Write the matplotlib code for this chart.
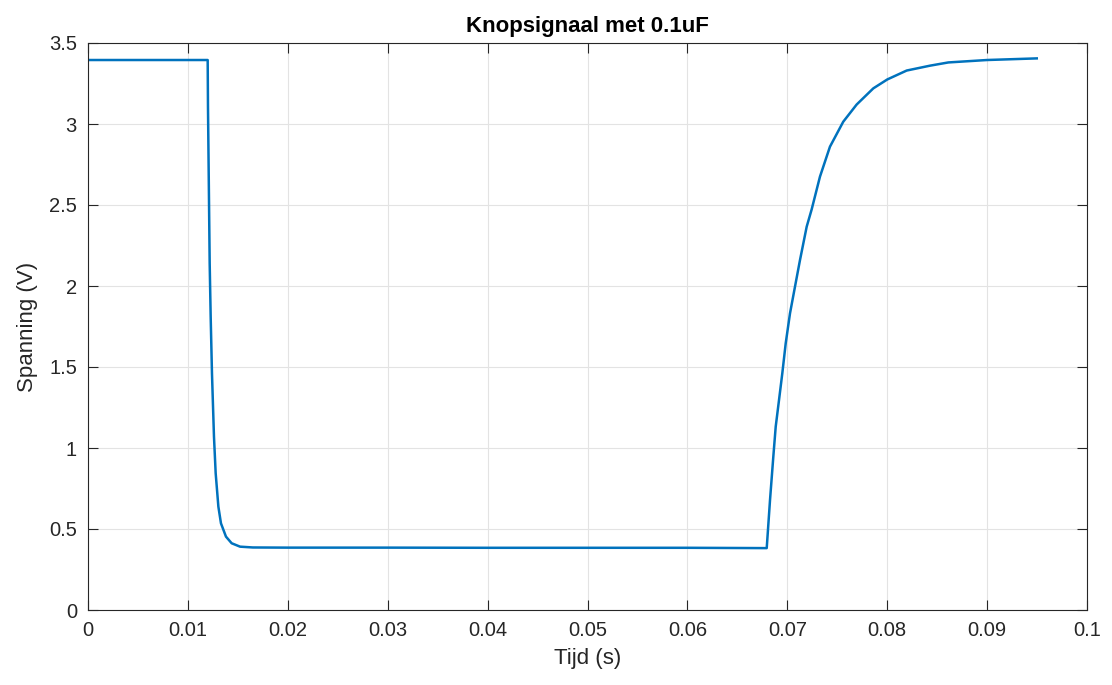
import matplotlib
matplotlib.use("Agg")
import matplotlib.pyplot as plt

plt.rcParams['font.family'] = ['Liberation Sans', 'DejaVu Sans']

# Time (s) and voltage (V)
tijd = [0.0, 0.004, 0.008, 0.01198, 0.01201, 0.01218, 0.01228, 0.01241, 0.01261,
        0.01278, 0.01305, 0.01331, 0.01381, 0.01438, 0.01522, 0.0165, 0.02,
        0.03, 0.04, 0.05, 0.06, 0.06794, 0.06827, 0.0686, 0.06884, 0.06917,
        0.0695, 0.06984, 0.07027, 0.07077, 0.07127, 0.07194, 0.07244, 0.07327,
        0.07427, 0.0756, 0.07694, 0.07861, 0.08001, 0.08195, 0.08428, 0.08612,
        0.09, 0.09497]
spanning = [3.395, 3.395, 3.395, 3.395, 3.107, 2.14, 1.81, 1.46, 1.07,
            0.844, 0.638, 0.535, 0.453, 0.412, 0.391, 0.386, 0.385,
            0.385, 0.384, 0.384, 0.384, 0.382, 0.679, 0.946, 1.132, 1.296,
            1.461, 1.646, 1.831, 1.996, 2.16, 2.366, 2.473, 2.675,
            2.86, 3.014, 3.12, 3.22, 3.275, 3.33, 3.36, 3.38,
            3.395, 3.405]

xticks = [0, 0.01, 0.02, 0.03, 0.04, 0.05, 0.06, 0.07, 0.08, 0.09, 0.1]
xticklabels = ['0', '0.01', '0.02', '0.03', '0.04', '0.05', '0.06', '0.07', '0.08', '0.09', '0.1']
yticks = [0, 0.5, 1, 1.5, 2, 2.5, 3, 3.5]
yticklabels = ['0', '0.5', '1', '1.5', '2', '2.5', '3', '3.5']

fig = plt.figure(figsize=(11.12, 6.85), dpi=100)
ax = fig.add_axes([88/1112, 1 - 610/685, (1087-88)/1112, (610-43)/685])

ax.plot(tijd, spanning, color='#0072BD', linewidth=1.8, solid_joinstyle='round')

ax.set_xlim(0, 0.1)
ax.set_ylim(0, 3.5)
ax.set_xticks(xticks)
ax.set_xticklabels(xticklabels)
ax.set_yticks(yticks)
ax.set_yticklabels(yticklabels)

ax.grid(True, color='#e3e3e3', linewidth=0.8)
ax.set_axisbelow(True)
for s in ax.spines.values():
    s.set_color('#262626')
    s.set_linewidth(0.8)
ax.tick_params(direction='in', length=7, width=0.8, color='#262626',
               labelcolor='#262626', labelsize=14.5, top=True, right=True,
               labeltop=False, labelright=False, pad=8)

ax.set_xlabel('Tijd (s)', fontsize=16, color='#262626', labelpad=6)
ax.set_ylabel('Spanning (V)', fontsize=16, color='#262626', labelpad=8)
ax.set_title('Knopsignaal met 0.1uF', fontsize=16, fontweight='bold', pad=8)

fig.savefig('out.png', dpi=100)
